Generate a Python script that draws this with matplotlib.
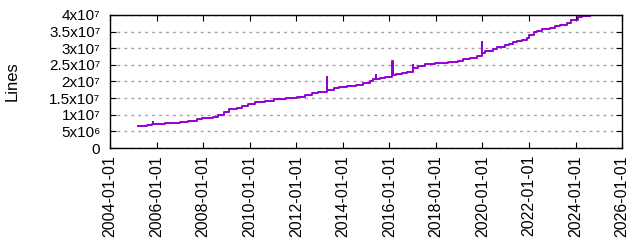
import pandas as pd
import matplotlib
matplotlib.use('Agg')
import matplotlib.pyplot as plt
import matplotlib.dates as mdates
from matplotlib.ticker import FuncFormatter, MultipleLocator

plt.rcParams['font.family'] = ['Liberation Sans', 'DejaVu Sans']

# Line count over time (the short spikes are single samples)
dates = ['2005-03-20', '2005-08-07', '2005-10-15', '2005-11-05', '2005-11-12',
         '2006-05-12', '2007-01-05', '2007-05-12', '2007-09-25', '2007-12-10',
         '2008-05-30', '2008-08-25', '2008-11-28', '2009-02-10', '2009-06-10',
         '2009-08-28', '2009-12-08', '2010-03-25', '2010-08-28', '2011-01-20',
         '2011-07-22', '2012-01-08', '2012-05-18', '2012-09-02', '2012-12-12',
         '2013-04-22', '2013-04-26', '2013-08-08', '2013-11-07', '2014-03-03',
         '2014-07-27', '2014-11-20', '2015-03-03', '2015-04-23', '2015-06-05',
         '2015-06-09', '2015-08-07', '2015-10-27', '2016-02-17', '2016-02-21',
         '2016-04-12', '2016-07-16', '2016-10-01', '2017-01-04', '2017-01-08',
         '2017-04-01', '2017-07-16', '2017-10-01', '2017-12-20', '2018-07-16',
         '2018-12-20', '2019-03-08', '2019-06-21', '2019-10-05', '2019-12-28',
         '2020-01-01', '2020-02-14', '2020-06-20', '2020-08-22', '2020-12-20',
         '2021-02-28', '2021-05-01', '2021-06-25', '2021-09-09', '2021-11-28',
         '2022-01-08', '2022-03-25', '2022-05-05', '2022-07-20', '2022-11-28',
         '2023-02-14', '2023-05-01', '2023-08-18', '2023-10-23', '2024-02-14',
         '2024-04-08', '2024-08-18']
lines = [6.56e6, 6.9e6, 7.2e6, 7.9e6, 7.2e6,
         7.5e6, 7.9e6, 8.2e6, 8.6e6, 8.9e6,
         9.4e6, 10.0e6, 10.9e6, 11.7e6, 12.1e6,
         12.7e6, 13.1e6, 13.7e6, 14.1e6, 14.6e6,
         14.9e6, 15.4e6, 16.0e6, 16.5e6, 16.9e6,
         21.2e6, 17.5e6, 17.9e6, 18.3e6, 18.7e6,
         19.0e6, 19.5e6, 20.2e6, 20.7e6, 21.9e6,
         20.7e6, 21.1e6, 21.4e6, 26.3e6, 21.8e6,
         22.1e6, 22.4e6, 22.9e6, 25.0e6, 24.1e6,
         24.7e6, 25.1e6, 25.3e6, 25.5e6, 25.9e6,
         26.3e6, 26.9e6, 27.2e6, 27.7e6, 31.9e6,
         28.5e6, 29.3e6, 29.7e6, 30.3e6, 30.9e6,
         31.4e6, 31.9e6, 32.2e6, 32.5e6, 33.1e6,
         33.9e6, 34.9e6, 35.3e6, 35.8e6, 36.2e6,
         36.7e6, 37.1e6, 37.7e6, 38.4e6, 39.4e6,
         39.8e6, 39.8e6]

x = pd.to_datetime(dates)

fig = plt.figure(figsize=(6.4, 2.4), dpi=100)
ax = fig.add_axes([0.172, 0.383, 0.8, 0.555])

ax.plot(x, lines, color='#9400d3', lw=1.4, drawstyle='steps-post')

ax.set_xlim(pd.Timestamp('2004-01-01'), pd.Timestamp('2026-01-01'))
ax.set_ylim(0, 4e7)

ax.xaxis.set_major_locator(mdates.YearLocator(2))
ax.xaxis.set_major_formatter(mdates.DateFormatter('%Y-%m-%d'))
ax.yaxis.set_major_locator(MultipleLocator(5e6))

sup = str.maketrans('0123456789', '⁰¹²³⁴⁵⁶⁷⁸⁹')


def fmt(v, pos):
    if v == 0:
        return '0'
    e = 6 if v < 1e7 else 7
    m = '%g' % (v / 10 ** e)
    return m + 'x10' + str(e).translate(sup)


ax.yaxis.set_major_formatter(FuncFormatter(fmt))
ax.tick_params(axis='both', direction='in', top=True, right=True,
               length=4, width=0.8)
ax.tick_params(axis='x', rotation=90, pad=5, labelsize=11.5)
ax.tick_params(axis='y', pad=7, labelsize=11)
for t in ax.get_yticklabels():
    t.set_va('center_baseline')

ax.grid(axis='y', color='#a0a0a0', ls=(0, (2, 3)), lw=1)
for s in ax.spines.values():
    s.set_linewidth(1)

ax.set_ylabel('Lines', fontsize=12)
ax.yaxis.set_label_coords(-0.177, 0.5)

plt.savefig('out.png', dpi=100)
